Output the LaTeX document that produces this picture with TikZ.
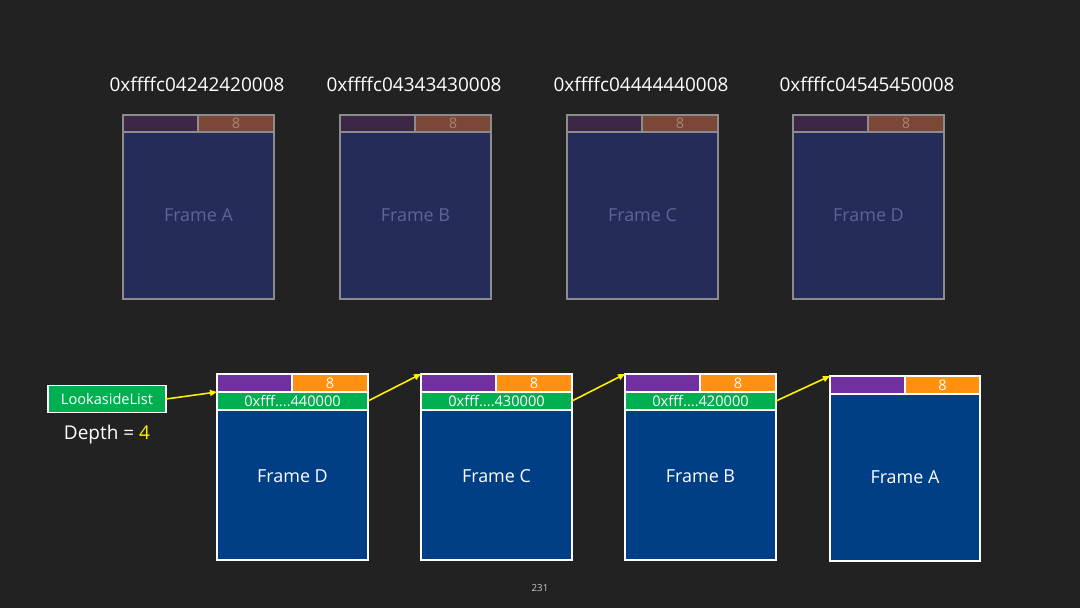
\documentclass[tikz,border=0pt]{standalone}
\usepackage{fontspec}
\setmainfont{Open Sans}
\usepackage{tikz}
\usetikzlibrary{arrows.meta, positioning}

\definecolor{slidebg}{HTML}{222222}
\definecolor{hdrpurple}{HTML}{7030A0}
\definecolor{hdrorange}{HTML}{FF9010}
\definecolor{linkgreen}{HTML}{00B050}
\definecolor{framblue}{HTML}{003E86}
\definecolor{oldpurple}{HTML}{3C2747}
\definecolor{oldorange}{HTML}{7B4737}
\definecolor{oldblue}{HTML}{262C5A}
\definecolor{oldline}{HTML}{8C8C8C}
\definecolor{oldtext}{HTML}{5E6495}
\definecolor{oldeight}{HTML}{A8846F}

\tikzset{
    cell/.style={draw=white, line width=0.8pt, inner sep=0pt, outer sep=0pt,
        anchor=north west, text=white, font=\fontsize{8.3}{10}\selectfont},
    oldcell/.style={draw=oldline, line width=0.8pt, inner sep=0pt, outer sep=0pt,
        anchor=north west, text=oldeight, font=\fontsize{8.3}{10}\selectfont},
    framelbl/.style={text=white, font=\fontsize{10.2}{12}\selectfont},
    addrlbl/.style={text=white, font=\fontsize{10.8}{13}\selectfont},
    nextptr/.style={draw=yellow, line width=0.9pt, -{Triangle[length=4pt, width=3.4pt]}}
}

\begin{document}
\begin{tikzpicture}[x=0.02cm, y=-0.02cm]
    \fill[slidebg] (0,0) rectangle (1080,608);
    \useasboundingbox (0,0) rectangle (1080,608);

    % freed frames, old addresses
    \foreach \x/\n/\addr in {123/A/0xffffc04242420008, 340/B/0xffffc04343430008,
                             567/C/0xffffc04444440008, 793/D/0xffffc04545450008}
    {
        \node[oldcell, fill=oldpurple, minimum width=1.5cm, minimum height=0.34cm] (oldl\n) at (\x,115) {};
        \node[oldcell, fill=oldorange, minimum width=1.52cm, minimum height=0.34cm] (oldr\n) at (\x+75,115) {8};
        \node[oldcell, fill=oldblue, minimum width=3.02cm, minimum height=3.34cm, text=oldtext,
              font=\fontsize{10.2}{12}\selectfont] (old\n) at (\x,132) {Frame \n};
        \node[addrlbl] (addr\n) at (\x+74,84) {\addr};
    }

    % lookaside list chain
    \foreach \x/\n/\ptr in {217/D/440000, 421/C/430000, 625/B/420000}
    {
        \node[cell, fill=hdrpurple, minimum width=1.5cm, minimum height=0.36cm] (hdr\n) at (\x,374) {};
        \node[cell, fill=hdrorange, minimum width=1.52cm, minimum height=0.36cm] (cnt\n) at (\x+75,374) {8};
        \node[cell, fill=linkgreen, minimum width=3.02cm, minimum height=0.36cm] (nxt\n) at (\x,392) {0xfff....\ptr};
        \node[cell, fill=framblue, minimum width=3.02cm, minimum height=3.0cm] (body\n) at (\x,410) {};
        \node[framelbl] (lbl\n) at (\x+75.5,476) {Frame \n};
    }

    \node[cell, fill=hdrpurple, minimum width=1.5cm, minimum height=0.36cm] (hdrA) at (830,376) {};
    \node[cell, fill=hdrorange, minimum width=1.5cm, minimum height=0.36cm] (cntA) at (905,376) {8};
    \node[cell, fill=framblue, minimum width=3.0cm, minimum height=3.34cm,
          font=\fontsize{10.2}{12}\selectfont] (bodyA) at (830,394) {Frame A};

    \node[cell, anchor=center, fill=linkgreen, minimum width=2.36cm, minimum height=0.54cm] (list) at (107,399) {LookasideList};
    \node[addrlbl] (depth) at (107,435) {Depth = \textcolor{yellow}{4}};

    \draw[nextptr] (list.east) -- (nxtD.north west);
    \draw[nextptr] (nxtD.east) -- (hdrC.north west);
    \draw[nextptr] (nxtC.east) -- (hdrB.north west);
    \draw[nextptr] (nxtB.east) -- (hdrA.north west);

    \node[text=white!80!black, font=\fontsize{5.5}{7}\selectfont] (page) at (540,588) {231};
\end{tikzpicture}
\end{document}
